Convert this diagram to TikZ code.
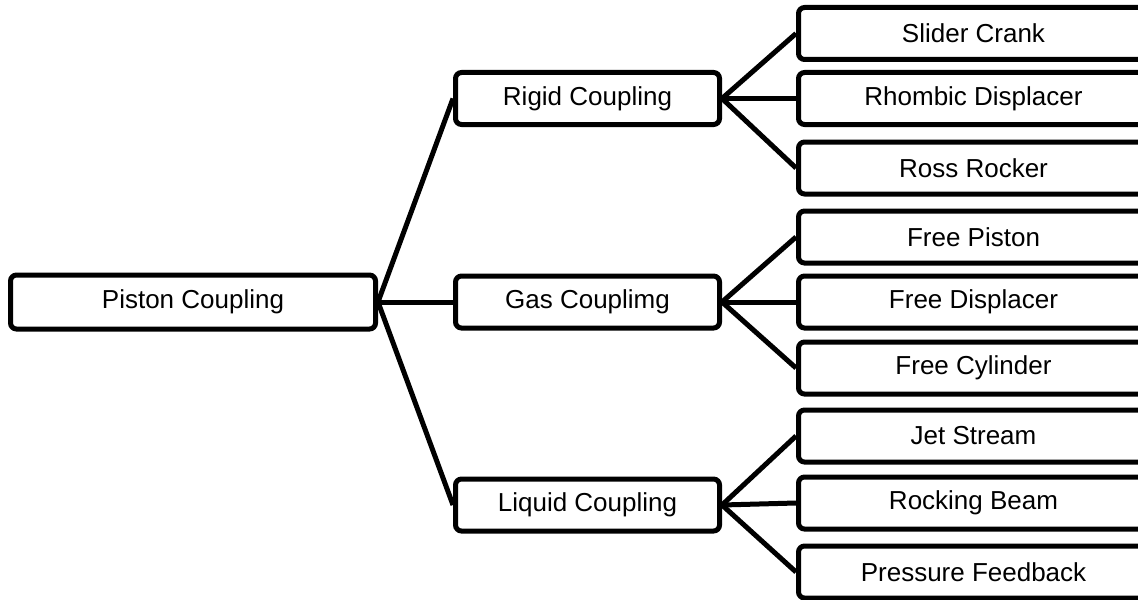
\documentclass[tikz,border=0pt]{standalone}
\usepackage{fontspec}
\setmainfont{Liberation Sans}
\begin{document}
\begin{tikzpicture}[x=0.5pt,y=-0.5pt,
  box/.style={draw=black,line width=2.5pt,rounded corners=3pt,fill=white,
    inner sep=0pt,font=\fontsize{13}{15}\selectfont,minimum height=26pt},
  rootbox/.style={box,minimum width=182.5pt,minimum height=27pt},
  midbox/.style={box,minimum width=132pt},
  leafbox/.style={box,minimum width=175pt},
  link/.style={line width=2.5pt}]
\useasboundingbox (0,0) rectangle (1138,599);
\clip (0,0) rectangle (1138,599);
\node[rootbox] (root) at (193,302) {Piston Coupling};
\node[midbox] (rigid) at (587.5,98.5) {Rigid Coupling};
\node[midbox] (gas) at (587.5,302) {Gas Couplimg};
\node[midbox] (liquid) at (587.5,505) {Liquid Coupling};
\node[leafbox] (l1) at (973.5,33.5) {Slider Crank};
\node[leafbox] (l2) at (973.5,98.5) {Rhombic Displacer};
\node[leafbox] (l3) at (973.5,168) {Ross Rocker};
\node[leafbox] (l4) at (973.5,237) {Free Piston};
\node[leafbox] (l5) at (973.5,302) {Free Displacer};
\node[leafbox] (l6) at (973.5,368) {Free Cylinder};
\node[leafbox] (l7) at (973.5,436) {Jet Stream};
\node[leafbox] (l8) at (973.5,503) {Rocking Beam};
\node[leafbox] (l9) at (973.5,572) {Pressure Feedback};
\draw[link] (root.east) -- (rigid.west);
\draw[link] (root.east) -- (gas.west);
\draw[link] (root.east) -- (liquid.west);
\draw[link] (rigid.east) -- (l1.west);
\draw[link] (rigid.east) -- (l2.west);
\draw[link] (rigid.east) -- (l3.west);
\draw[link] (gas.east) -- (l4.west);
\draw[link] (gas.east) -- (l5.west);
\draw[link] (gas.east) -- (l6.west);
\draw[link] (liquid.east) -- (l7.west);
\draw[link] (liquid.east) -- (l8.west);
\draw[link] (liquid.east) -- (l9.west);
\end{tikzpicture}
\end{document}
